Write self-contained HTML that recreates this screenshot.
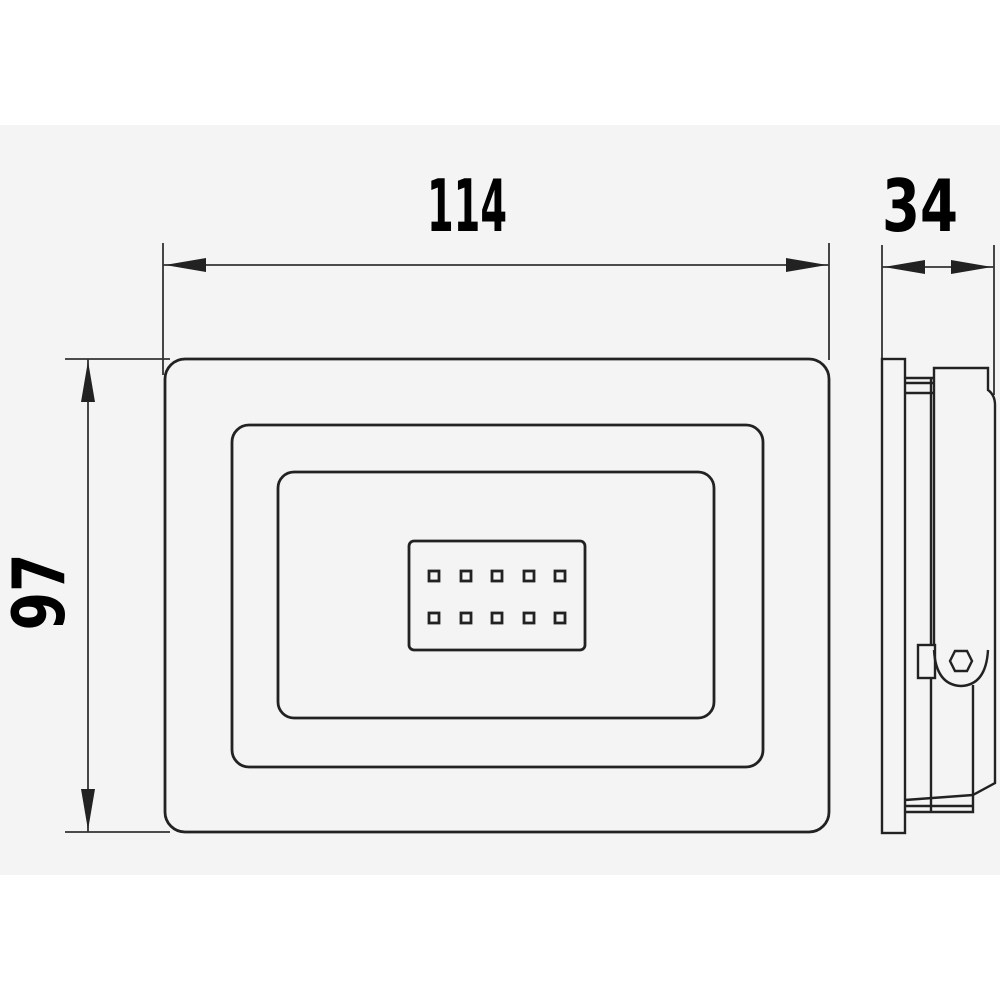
<!DOCTYPE html>
<html><head><meta charset="utf-8"><style>
html,body{margin:0;padding:0;background:#fff;width:1000px;height:1000px;overflow:hidden}
svg{display:block}
text{font-family:"DejaVu Sans","Liberation Sans",sans-serif;font-weight:bold;fill:#000}
</style></head><body>
<svg width="1000" height="1000" viewBox="0 0 1000 1000" xmlns="http://www.w3.org/2000/svg">
<rect x="0" y="0" width="1000" height="1000" fill="#fff"/>
<rect x="0" y="125" width="1000" height="750" fill="#f4f4f4"/>
<g fill="none" stroke="#222" stroke-width="2.8">
<rect x="165" y="359" width="664" height="473" rx="20"/>
<rect x="232" y="425" width="531" height="342" rx="17"/>
<rect x="278" y="472" width="436" height="246" rx="16"/>
<rect x="409" y="541" width="176" height="109" rx="5"/>
</g>
<g fill="none" stroke="#222" stroke-width="2.8">
<rect x="429" y="571" width="10" height="10"/><rect x="461" y="571" width="10" height="10"/><rect x="492" y="571" width="10" height="10"/><rect x="524" y="571" width="10" height="10"/><rect x="555" y="571" width="10" height="10"/>
<rect x="429" y="613" width="10" height="10"/><rect x="461" y="613" width="10" height="10"/><rect x="492" y="613" width="10" height="10"/><rect x="524" y="613" width="10" height="10"/><rect x="555" y="613" width="10" height="10"/>
</g>
<g stroke="#333" stroke-width="1.8" fill="none">
<line x1="163" y1="243" x2="163" y2="375"/>
<line x1="829" y1="243" x2="829" y2="360"/>
<line x1="163" y1="265" x2="829" y2="265"/>
<line x1="65" y1="359" x2="170" y2="359"/>
<line x1="65" y1="832" x2="170" y2="832"/>
<line x1="88" y1="359" x2="88" y2="832"/>
<line x1="882" y1="245" x2="882" y2="358"/>
<line x1="994" y1="245" x2="994" y2="395"/>
<line x1="882" y1="267" x2="994" y2="267"/>
</g>
<g fill="#222">
<polygon points="165,265 206,258 206,272"/>
<polygon points="827,265 786,258 786,272"/>
<polygon points="88,361 81,402 95,402"/>
<polygon points="88,830 81,789 95,789"/>
<polygon points="884,267 925,260 925,274"/>
<polygon points="992,267 951,260 951,274"/>
</g>
<g fill="none" stroke="#222" stroke-width="2.4">
<rect x="882" y="359" width="23" height="474"/>
<line x1="905" y1="378" x2="935" y2="378"/>
<line x1="905" y1="383" x2="935" y2="383"/>
<line x1="905" y1="393" x2="935" y2="393"/>
<line x1="931" y1="378" x2="931" y2="645"/>
<path d="M934 645 V368 H988 V390 Q995 395 995 405 V783 L973 795 V812 H905"/>
<line x1="905" y1="800" x2="973" y2="795"/>
<line x1="905" y1="806" x2="973" y2="806"/>
<line x1="931" y1="678" x2="931" y2="812"/>
<line x1="973" y1="685" x2="973" y2="795"/>
<rect x="918" y="645" width="17" height="33"/>
<path d="M934 650 Q936 685 961 686 Q986 685 988 650"/>
<polygon points="955,651 967,651 972,661 967,671 955,671 950,661"/>
</g>
<text x="467" y="231" font-size="72" text-anchor="middle" textLength="80" lengthAdjust="spacingAndGlyphs">114</text>
<text x="920" y="231" font-size="72" text-anchor="middle" textLength="76" lengthAdjust="spacingAndGlyphs">34</text>
<text transform="translate(64,592) rotate(-90)" font-size="72" text-anchor="middle" textLength="77" lengthAdjust="spacingAndGlyphs">97</text>
</svg>
</body></html>
